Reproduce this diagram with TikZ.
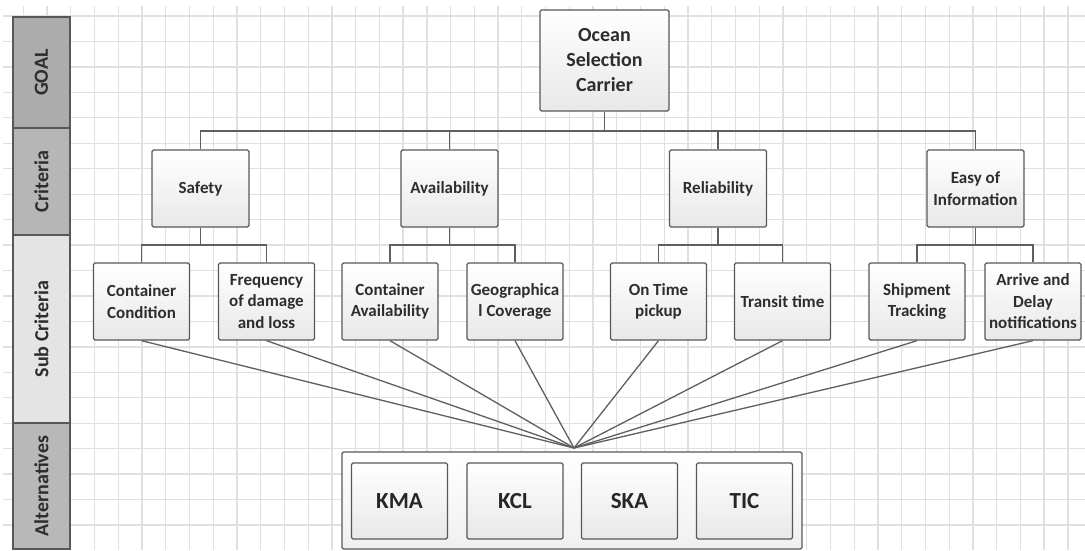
\documentclass[tikz,border=0pt]{standalone}
\usepackage{fontspec}
\setmainfont{Carlito}
\usetikzlibrary{calc}
\definecolor{gridcol}{RGB}{224,224,224}
\definecolor{boxline}{RGB}{88,88,88}
\definecolor{txt}{RGB}{45,45,45}
\definecolor{connc}{RGB}{95,95,95}
\definecolor{bandA}{RGB}{172,172,172}
\definecolor{bandB}{RGB}{182,182,182}
\definecolor{bandC}{RGB}{228,228,228}
\definecolor{bandD}{RGB}{184,184,184}
\tikzset{
  gridline/.style={draw=gridcol, line width=1.3pt},
  hbox/.style={draw=boxline, line width=1.3pt, rounded corners=1.5pt,
    top color=white, bottom color=black!9, text=txt, align=center,
    inner sep=1pt, font=\bfseries\fontsize{17}{21.5}\selectfont},
  goalbox/.style={hbox, minimum width=129pt, minimum height=101pt,
    font=\bfseries\fontsize{20}{25}\selectfont},
  critbox/.style={hbox, minimum width=97pt, minimum height=77pt},
  subbox/.style={hbox, minimum width=96pt, minimum height=77pt},
  altbox/.style={hbox, minimum width=96pt, minimum height=76pt,
    font=\bfseries\fontsize{23}{27}\selectfont, text=black!85},
  altframe/.style={draw=boxline, line width=1.3pt, rounded corners=1.5pt,
    top color=white, bottom color=black!6, minimum width=460pt, minimum height=97pt},
  band/.style={draw=boxline, line width=1.3pt, rotate=90, minimum height=57pt,
    text=txt, font=\bfseries\fontsize{20}{24}\selectfont, inner sep=0pt},
  conn/.style={draw=connc, line width=1.3pt},
}
\begin{document}
\begin{tikzpicture}[x=1pt, y=-1pt]
\useasboundingbox (0,0) rectangle (1085,550);
\fill[white] (0,0) rectangle (1085,550);
% grid
\foreach \i in {0,...,44} {
  \draw[gridline] ({23.3+\i*23.74},6) -- ({23.3+\i*23.74},550);
}
\foreach \j in {0,...,20} {
  \draw[gridline] (3,{16+\j*25.45}) -- (1085,{16+\j*25.45});
}
% left band
\node[band, fill=bandA, minimum width=111pt] (lgoal) at (41.5,72.5) {GOAL};
\node[band, fill=bandB, minimum width=107pt] (lcrit) at (41.5,181.5) {Criteria};
\node[band, fill=bandC, minimum width=188pt] (lsub) at (41.5,329) {Sub Criteria};
\node[band, fill=bandD, minimum width=126pt] (lalt) at (41.5,486) {Alternatives};
% level coordinates
\coordinate (topbar) at (0,131);
\coordinate (subbar) at (0,245);
\coordinate (hub) at (574,448);
% alternatives frame
\node[altframe] (alts) at (572,500.5) {};
% goal
\node[goalbox] (goal) at (604.5,60.5) {Ocean\\Selection\\Carrier};
% criteria
\node[critbox] (safety) at (200.5,188.5) {Safety};
\node[critbox] (avail) at (449.5,188.5) {Availability};
\node[critbox] (reli) at (718,188.5) {Reliability};
\node[critbox] (easy) at (975.5,188.5) {Easy of\\Information};
% sub criteria
\node[subbox] (cc) at (141.5,301.5) {Container\\Condition};
\node[subbox] (fd) at (266.5,301.5) {Frequency\\of damage\\and loss};
\node[subbox] (ca) at (390,301.5) {Container\\Availability};
\node[subbox] (gc) at (515,301.5) {Geographica\\l Coverage};
\node[subbox] (ot) at (658.5,301.5) {On Time\\pickup};
\node[subbox] (tt) at (782.5,301.5) {Transit time};
\node[subbox] (st) at (917,301.5) {Shipment\\Tracking};
\node[subbox] (ad) at (1033,301.5) {Arrive and\\Delay\\notifications};
% alternatives
\node[altbox] (kma) at (399.5,501) {KMA};
\node[altbox] (kcl) at (515,501) {KCL};
\node[altbox] (ska) at (629.5,501) {SKA};
\node[altbox] (tic) at (744.5,501) {TIC};
% tree connectors
\draw[conn] (goal.south) -- (goal.south |- topbar);
\draw[conn] (safety.north) -- (safety.north |- topbar) -- (easy.north |- topbar) -- (easy.north);
\draw[conn] (avail.north) -- (avail.north |- topbar);
\draw[conn] (reli.north) -- (reli.north |- topbar);
\draw[conn] (safety.south) -- (safety.south |- subbar);
\draw[conn] (cc.north) -- (cc.north |- subbar) -- (fd.north |- subbar) -- (fd.north);
\draw[conn] (avail.south) -- (avail.south |- subbar);
\draw[conn] (ca.north) -- (ca.north |- subbar) -- (gc.north |- subbar) -- (gc.north);
\draw[conn] (reli.south) -- (reli.south |- subbar);
\draw[conn] (ot.north) -- (ot.north |- subbar) -- (tt.north |- subbar) -- (tt.north);
\draw[conn] (easy.south) -- (easy.south |- subbar);
\draw[conn] (st.north) -- (st.north |- subbar) -- (ad.north |- subbar) -- (ad.north);
% fan to alternatives
\foreach \n in {cc,fd,ca,gc,ot,tt,st,ad} {
  \draw[conn] (\n.south) -- (hub);
}
\end{tikzpicture}
\end{document}
